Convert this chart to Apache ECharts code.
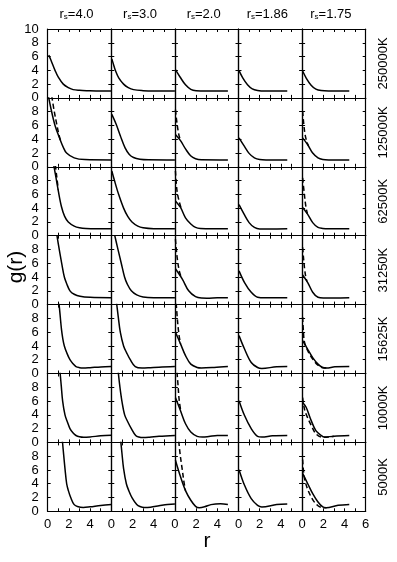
<!DOCTYPE html>
<html>
<head>
<meta charset="utf-8">
<script src="https://cdn.jsdelivr.net/npm/echarts@6/dist/echarts.min.js"></script>
<style>
  html, body { margin: 0; padding: 0; background: #fff; }
  #chart { width: 397px; height: 562px; }
</style>
</head>
<body>
<div id="chart"></div>
<script>
// column / row headings
var rsValues = ['4.0', '3.0', '2.0', '1.86', '1.75'];
var temperatures = ['250000K', '125000K', '62500K', '31250K', '15625K', '10000K', '5000K'];
var xTickLabels = [0, 2, 4, 6];
var yTickLabels = [0, 2, 4, 6, 8, 10];

// g(r) curves, one list of [r, g] per column (rs = 4.0, 3.0, 2.0, 1.86, 1.75)
var solid250000K = [
  [[0.1,6.2],[0.3,5.5],[0.69,4.0],[1.0,3.0],[1.47,2.0],[2.0,1.45],[2.4,1.2],[3.0,1.1],[3.7,1.05],[5.0,1.0],[6.0,1.0]],
  [[0.05,5.65],[0.2,4.9],[0.38,4.0],[0.7,2.9],[1.16,2.0],[1.6,1.5],[2.1,1.2],[3.0,1.05],[4.0,1.0],[6.0,1.0]],
  [[0.05,4.1],[0.5,3.0],[1.0,1.9],[1.5,1.25],[2.0,1.05],[3.0,1.0],[5.0,1.0]],
  [[0.05,3.95],[0.4,2.9],[0.85,1.9],[1.3,1.3],[1.8,1.08],[2.5,1.0],[4.6,1.0]],
  [[0.05,3.9],[0.4,2.85],[0.85,1.85],[1.3,1.28],[1.8,1.06],[2.5,1.0],[4.45,1.0]]
];
var dashed250000K = [[], [], [], [], []];

var solid125000K = [
  [[0.0,10.8],[0.3,8.5],[0.69,6.0],[1.16,4.0],[1.45,2.9],[1.78,2.0],[2.5,1.3],[3.5,1.05],[6.0,1.0]],
  [[0.05,7.6],[0.45,6.2],[0.85,4.5],[1.3,2.75],[1.7,1.8],[2.1,1.35],[2.7,1.1],[3.5,1.02],[6.0,1.0]],
  [[0.05,4.7],[0.53,3.8],[1.0,2.6],[1.48,1.6],[1.95,1.16],[2.5,1.02],[5.0,1.0]],
  [[0.05,4.2],[0.5,3.1],[1.0,1.95],[1.5,1.3],[2.0,1.05],[2.6,1.0],[4.6,1.0]],
  [[0.05,4.2],[0.53,3.2],[1.0,2.0],[1.5,1.3],[1.95,1.06],[2.5,1.0],[4.45,1.0]]
];
var dashed125000K = [
  [[0.38,10.3],[0.6,8.2],[0.85,6.2],[1.1,4.4],[1.3,3.5]],
  [],
  [[0.05,8.3],[0.2,6.3],[0.38,4.6],[0.55,3.75]],
  [],
  [[0.05,8.1],[0.15,6.3],[0.28,4.7],[0.45,3.6],[0.6,3.05]]
];

var solid62500K = [
  [[0.5,11.0],[0.6,10.0],[0.8,8.3],[1.0,6.5],[1.3,4.2],[1.6,2.8],[1.94,2.0],[2.5,1.4],[3.0,1.15],[3.6,1.05],[6.0,1.0]],
  [[0.05,9.4],[0.3,8.0],[0.69,6.0],[1.16,4.0],[1.55,2.8],[1.95,2.0],[2.5,1.4],[3.0,1.15],[4.0,1.02],[6.0,1.0]],
  [[0.05,5.05],[0.53,4.1],[1.0,2.6],[1.5,1.7],[1.95,1.2],[2.4,1.05],[5.0,1.0]],
  [[0.05,4.5],[0.5,3.2],[1.0,1.9],[1.5,1.2],[2.0,0.98],[3.0,0.98],[4.6,1.0]],
  [[0.05,4.1],[0.53,3.1],[1.0,1.9],[1.5,1.2],[1.95,1.05],[2.5,1.0],[4.45,1.0]]
];
var dashed62500K = [
  [[0.72,10.3],[0.85,8.6],[1.0,6.7]],
  [],
  [[0.05,9.4],[0.2,6.5],[0.4,5.0],[0.6,3.95]],
  [],
  [[0.05,8.4],[0.2,6.2],[0.35,4.3],[0.5,3.2]]
];

var solid31250K = [
  [[0.85,10.3],[1.0,8.8],[1.32,6.0],[1.57,4.0],[1.8,3.0],[2.1,2.0],[2.5,1.5],[3.05,1.2],[4.0,1.05],[6.0,1.0]],
  [[0.3,10.2],[0.6,8.2],[0.94,6.0],[1.25,4.0],[1.5,3.0],[1.89,2.0],[2.4,1.4],[3.0,1.1],[4.0,1.0],[6.0,1.0]],
  [[0.05,5.2],[0.7,3.7],[1.3,2.0],[1.95,1.15],[2.5,0.95],[3.0,0.93],[4.0,0.98],[5.0,1.0]],
  [[0.05,4.9],[0.57,3.2],[1.2,1.78],[1.8,1.06],[2.5,0.98],[4.6,1.0]],
  [[0.05,4.3],[0.53,3.2],[1.0,1.8],[1.5,1.06],[2.0,0.97],[3.0,0.97],[4.45,1.0]]
];
var dashed31250K = [
  [],
  [],
  [[0.05,9.5],[0.2,7.0],[0.4,5.0],[0.6,3.95]],
  [],
  [[0.05,8.3],[0.15,6.5],[0.25,5.0],[0.35,4.0],[0.45,3.4]]
];

var solid15625K = [
  [[1.0,11.2],[1.07,10.1],[1.17,8.5],[1.3,6.4],[1.43,5.0],[1.57,4.0],[1.8,3.0],[2.1,2.0],[2.4,1.4],[2.67,1.0],[3.0,0.85],[3.36,0.8],[4.0,0.85],[5.0,0.95],[6.0,1.0]],
  [[0.5,10.2],[0.65,8.3],[0.85,6.0],[1.16,4.0],[1.45,3.0],[1.79,2.0],[2.26,1.0],[2.9,0.8],[3.5,0.83],[4.5,0.92],[6.0,1.0]],
  [[0.05,6.0],[0.53,4.3],[1.0,2.6],[1.5,1.36],[2.1,0.87],[2.5,0.8],[3.7,0.87],[5.0,1.0]],
  [[0.05,5.5],[0.57,3.55],[1.2,1.6],[1.8,0.87],[2.2,0.73],[3.6,0.97],[4.6,1.0]],
  [[0.05,4.76],[0.53,3.5],[1.0,2.3],[1.5,1.36],[1.95,0.87],[2.3,0.8],[3.1,0.97],[4.45,1.0]]
];
var dashed15625K = [
  [],
  [],
  [[0.12,10.2],[0.25,7.6],[0.38,5.7],[0.53,4.3]],
  [],
  [[0.05,8.2],[0.12,6.2],[0.22,4.6],[0.53,3.3],[1.0,2.1],[1.5,1.2],[1.95,0.82],[2.3,0.8]]
];

var solid10000K = [
  [[1.1,11.2],[1.18,9.9],[1.28,8.2],[1.41,6.0],[1.63,4.0],[1.85,3.0],[2.1,2.0],[2.4,1.35],[2.67,1.0],[3.0,0.82],[3.4,0.75],[4.0,0.8],[5.0,0.95],[6.0,1.05]],
  [[0.65,10.3],[0.8,8.2],[1.0,6.0],[1.26,4.0],[1.55,3.0],[1.89,2.0],[2.3,1.0],[2.6,0.78],[3.0,0.7],[3.6,0.75],[4.5,0.88],[6.0,1.0]],
  [[0.05,6.5],[0.53,4.6],[1.0,2.7],[1.5,1.5],[2.1,0.87],[2.6,0.77],[3.2,0.85],[4.0,1.0],[5.0,1.0]],
  [[0.05,6.06],[0.57,3.9],[1.2,2.0],[1.8,0.87],[2.2,0.77],[3.2,0.95],[4.6,1.0]],
  [[0.05,5.8],[0.38,5.1],[0.85,3.2],[1.3,1.7],[1.8,1.0],[2.1,0.77],[3.0,0.9],[4.45,1.0]]
];
var dashed10000K = [
  [],
  [],
  [[0.2,10.2],[0.3,8.2],[0.4,6.2],[0.55,4.6]],
  [],
  [[0.05,6.5],[0.2,5.0],[0.38,4.1],[0.85,2.5],[1.3,1.25],[1.8,0.77],[2.1,0.75],[3.0,0.9]]
];

var solid5000K = [
  [[1.33,11.0],[1.41,9.8],[1.5,8.3],[1.63,6.2],[1.79,4.0],[1.95,3.0],[2.17,2.0],[2.48,1.0],[2.8,0.7],[3.36,0.55],[4.0,0.65],[5.0,0.85],[6.0,1.0]],
  [[0.83,11.0],[0.91,9.9],[1.0,8.5],[1.16,6.2],[1.42,4.0],[1.65,3.0],[1.95,2.0],[2.4,1.0],[2.7,0.7],[3.1,0.55],[3.7,0.6],[4.5,0.8],[5.3,1.0],[6.0,1.05]],
  [[0.05,7.4],[0.53,5.0],[1.0,3.0],[1.5,1.6],[1.95,0.72],[2.3,0.52],[2.8,0.65],[3.4,0.97],[4.3,1.1],[5.0,1.0]],
  [[0.05,6.04],[0.57,3.77],[1.2,1.84],[1.8,0.87],[2.2,0.63],[3.6,0.97],[4.6,1.07]],
  [[0.05,5.5],[0.53,4.0],[1.0,2.56],[1.5,1.35],[1.95,0.63],[2.26,0.53],[3.4,0.87],[4.45,1.0]]
];
var dashed5000K = [
  [],
  [],
  [[0.36,10.2],[0.5,8.2],[0.7,6.0],[0.85,4.3],[1.0,3.0]],
  [],
  [[0.05,7.5],[0.2,5.0],[0.5,3.3],[1.0,1.7],[1.5,0.8],[1.9,0.55],[2.3,0.52]]
];

var solidRows = [solid250000K, solid125000K, solid62500K, solid31250K, solid15625K, solid10000K, solid5000K];
var dashedRows = [dashed250000K, dashed125000K, dashed62500K, dashed31250K, dashed15625K, dashed10000K, dashed5000K];

// panel layout
var left0 = 47.7, top0 = 29, panelW = 63.6, panelH = 68.9;
var font = 'Liberation Sans, Arial, sans-serif';
var axisLine = { show: true, onZero: false, lineStyle: { color: '#000', width: 1.2 } };
var tick = { show: true, inside: true, length: 3, lineStyle: { color: '#000', width: 1 } };

var chart = echarts.init(document.getElementById('chart'));
var grids = [], xAxes = [], yAxes = [], series = [];

for (var r = 0; r < temperatures.length; r++) {
  for (var c = 0; c < rsValues.length; c++) {
    var g = grids.length;
    grids.push({ left: left0 + c * panelW, top: top0 + r * panelH, width: panelW, height: panelH });

    (function (row, col) {
      xAxes.push({
        type: 'value', gridIndex: g, position: 'bottom', min: 0, max: 6, interval: 1,
        axisLine: axisLine, axisTick: tick, splitLine: { show: false },
        axisLabel: {
          show: row === temperatures.length - 1, color: '#000', fontSize: 13, fontFamily: font, margin: 7,
          formatter: function (v) {
            if (xTickLabels.indexOf(v) < 0) return '';
            if (v === 6 && col < rsValues.length - 1) return '';
            return String(v);
          }
        }
      });
      xAxes.push({
        type: 'value', gridIndex: g, position: 'top', min: 0, max: 6, interval: 1,
        axisLine: axisLine, axisTick: tick, splitLine: { show: false }, axisLabel: { show: false }
      });
      yAxes.push({
        type: 'value', gridIndex: g, position: 'left', min: 0, max: 10, interval: 2,
        axisLine: axisLine, axisTick: tick, splitLine: { show: false },
        axisLabel: {
          show: col === 0, color: '#000', fontSize: 13, fontFamily: font, margin: 9,
          formatter: function (v) {
            if (yTickLabels.indexOf(v) < 0) return '';
            if (v === 10 && row > 0) return '';
            return String(v);
          }
        }
      });
      yAxes.push({
        type: 'value', gridIndex: g, position: 'right', min: 0, max: 10, interval: 2,
        axisLine: axisLine, axisTick: tick, splitLine: { show: false }, axisLabel: { show: false }
      });
    })(r, c);

    var base = { type: 'line', xAxisIndex: 2 * g, yAxisIndex: 2 * g, showSymbol: false, symbol: 'none',
      smooth: 0.35, clip: true, silent: true };
    series.push(Object.assign({}, base, {
      data: solidRows[r][c], lineStyle: { color: '#000', width: 1.5 }
    }));
    if (dashedRows[r][c].length) {
      series.push(Object.assign({}, base, {
        data: dashedRows[r][c], lineStyle: { color: '#000', width: 1.5, type: [5, 3] }
      }));
    }
  }
}

// headings and axis names
var graphics = [];
rsValues.forEach(function (rs, c) {
  graphics.push({
    type: 'text', x: left0 + (c + 0.5) * panelW - 3, y: 13,
    style: {
      text: '{a|r}{s|s}{a|=' + rs + '}', align: 'center', verticalAlign: 'middle', fill: '#000',
      rich: {
        a: { fontSize: 13, fontFamily: font, fill: '#000', lineHeight: 15, verticalAlign: 'bottom' },
        s: { fontSize: 8, fontFamily: font, fill: '#000', lineHeight: 6, verticalAlign: 'bottom' }
      }
    }
  });
});
temperatures.forEach(function (t, r) {
  graphics.push({
    type: 'text', x: 383, y: top0 + (r + 0.5) * panelH, rotation: Math.PI / 2,
    style: { text: t, align: 'center', verticalAlign: 'middle', fontSize: 13, fontFamily: font, fill: '#000' }
  });
});
graphics.push({
  type: 'text', x: 16, y: 267, rotation: Math.PI / 2,
  style: { text: 'g(r)', align: 'center', verticalAlign: 'middle', fontSize: 21, fontFamily: font, fill: '#000' }
});
graphics.push({
  type: 'text', x: 207, y: 541,
  style: { text: 'r', align: 'center', verticalAlign: 'middle', fontSize: 21, fontFamily: font, fill: '#000' }
});

chart.setOption({
  animation: false,
  backgroundColor: '#fff',
  grid: grids,
  xAxis: xAxes,
  yAxis: yAxes,
  series: series,
  graphic: graphics
});
</script>
</body>
</html>
